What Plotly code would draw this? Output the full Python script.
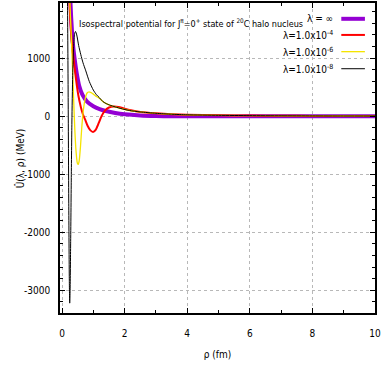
import plotly.graph_objects as go

# ---- data ----
rho_inf = [0.22, 0.27, 0.32, 0.36, 0.40, 0.47, 0.55, 0.65, 0.80, 1.00, 1.20, 1.40, 1.70, 2.00, 2.50, 3.00, 3.50, 4.00, 5.00, 6.00, 7.00, 8.00, 10.0]
U_inf = [3000, 1950, 1450, 1180, 1000, 740, 520, 370, 250, 170, 122, 90, 55, 32, 12, 3, -1, -2, -2, -1, 0, 0, 0]

rho_l4 = [0.20, 0.24, 0.30, 0.37, 0.45, 0.52, 0.60, 0.67, 0.74, 0.82, 0.90, 0.99, 1.08, 1.17, 1.27, 1.38, 1.50, 1.65, 1.80, 2.00, 2.20, 2.50, 3.00, 3.50, 4.00, 5.00, 6.00, 7.00, 8.00, 9.00, 10.0]
U_l4 = [3000, 1950, 1350, 980, 620, 360, 160, 30, -60, -170, -240, -272, -230, -120, 10, 100, 150, 168, 160, 130, 103, 74, 50, 34, 24, 15, 10, 7, 5, 3.5, 2.5]

rho_l6 = [0.21, 0.25, 0.29, 0.33, 0.37, 0.41, 0.45, 0.49, 0.52, 0.55, 0.59, 0.63, 0.68, 0.74, 0.80, 0.86, 0.93, 1.00, 1.08, 1.18, 1.30, 1.40, 1.52, 1.70, 1.93, 2.16, 2.50, 3.00, 3.50, 4.00, 5.00, 6.00, 7.00, 8.00, 9.00, 10.0]
U_l6 = [3000, 1950, 1450, 900, 300, -250, -620, -810, -830, -760, -520, -200, 100, 300, 400, 420, 405, 380, 345, 315, 255, 220, 192, 160, 125, 98, 74, 50, 34, 24, 15, 10, 7, 5, 3.5, 2.5]

rho_l8 = [0.155, 0.175, 0.195, 0.215, 0.232, 0.245, 0.258, 0.275, 0.295, 0.315, 0.34, 0.37, 0.40, 0.43, 0.47, 0.53, 0.60, 0.67, 0.76, 0.87, 1.00, 1.10, 1.20, 1.30, 1.40, 1.52, 1.70, 1.93, 2.16, 2.50, 3.00, 3.50, 4.00, 5.00, 6.00, 7.00, 8.00, 9.00, 10.0]
U_l8 = [3000, 1950, 400, -1500, -2800, -3220, -3000, -2200, -1100, -100, 700, 1200, 1420, 1460, 1400, 1220, 1060, 920, 780, 600, 450, 370, 315, 255, 220, 192, 160, 125, 98, 74, 50, 34, 24, 15, 10, 7, 5, 3.5, 2.5]

series_names = ["λ = ∞", "λ=1.0x10<sup>-4</sup>", "λ=1.0x10<sup>-6</sup>", "λ=1.0x10<sup>-8</sup>"]
series_colors = ["#9400d3", "#ff0000", "#f5e400", "#000000"]
series_widths = [4, 2, 1.3, 1]

x_tickvals = [0, 2, 4, 6, 8, 10]
x_ticktext = ["0", "2", "4", "6", "8", "10"]
y_tickvals = [-3000, -2000, -1000, 0, 1000]
y_ticktext = ["-3000", "-2000", "-1000", "0", "1000"]

title_text = "Isospectral potential for J<sup>π</sup>=0<sup>+</sup> state of <sup>20</sup>C halo nucleus"
x_title = "ρ (fm)"
y_title = "Û(λ, ρ) (MeV)"

FONT = "DejaVu Sans Condensed, Liberation Sans Narrow, Arial Narrow, sans-serif"

fig = go.Figure()
data = [(rho_inf, U_inf), (rho_l4, U_l4), (rho_l6, U_l6), (rho_l8, U_l8)]
for (xs, ys), name, col, w in zip(data, series_names, series_colors, series_widths):
    fig.add_trace(go.Scatter(x=xs, y=ys, mode="lines", name=name,
                             line=dict(color=col, width=w, shape="spline", smoothing=0.6),
                             showlegend=False))

# gnuplot-style key: text on the left, sample line on the right
key_y = [0.949, 0.897, 0.843, 0.788]
for ky, name, col, w in zip(key_y, series_names, series_colors, series_widths):
    fig.add_annotation(x=0.874, y=ky, xref="paper", yref="paper", text=name,
                       showarrow=False, xanchor="right", yanchor="middle",
                       font=dict(family=FONT, size=10, color="#000"))
    fig.add_shape(type="line", xref="paper", yref="paper", x0=0.893, x1=0.968,
                  y0=ky, y1=ky, line=dict(color=col, width=w))

fig.add_annotation(x=0.055, y=0.936, xref="paper", yref="paper", text=title_text,
                   showarrow=False, xanchor="left", yanchor="middle",
                   font=dict(family=FONT, size=9, color="#000"))

# axis titles placed like the reference
fig.add_annotation(x=-0.126, y=0.5, xref="paper", yref="paper", text=y_title,
                   showarrow=False, textangle=-90, xanchor="center", yanchor="middle",
                   font=dict(family=FONT, size=10, color="#000"))

axis_common = dict(showline=True, linecolor="#000", linewidth=1.5, mirror="allticks",
                   ticks="inside", ticklen=5, tickcolor="#000", tickwidth=1,
                   showgrid=True, gridcolor="#b8b8b8", griddash="dot", gridwidth=1,
                   zeroline=False, tickfont=dict(family=FONT, size=10, color="#000"),
                   ticklabeloverflow="allow")

fig.update_xaxes(range=[-0.065, 10], tickvals=x_tickvals, ticktext=x_ticktext,
                 minor=dict(dtick=1, tick0=0, ticks="inside", ticklen=3, tickcolor="#000", showgrid=False),
                 ticklabelstandoff=10,
                 title=dict(text=x_title, font=dict(family=FONT, size=10, color="#000"), standoff=13),
                 **axis_common)
fig.update_yaxes(range=[-3390, 1950], tickvals=y_tickvals, ticktext=y_ticktext,
                 minor=dict(dtick=200, tick0=0, ticks="inside", ticklen=3, tickcolor="#000", showgrid=False),
                 ticklabelstandoff=6,
                 **axis_common)

fig.update_layout(width=382, height=369, margin=dict(l=60, r=5, t=1, b=56),
                  paper_bgcolor="#fff", plot_bgcolor="#fff",
                  font=dict(family=FONT, size=10, color="#000"))

fig.write_html("out.html", config={"displayModeBar": False},
               post_script="document.body.style.margin='0';document.body.style.overflow='hidden';")
